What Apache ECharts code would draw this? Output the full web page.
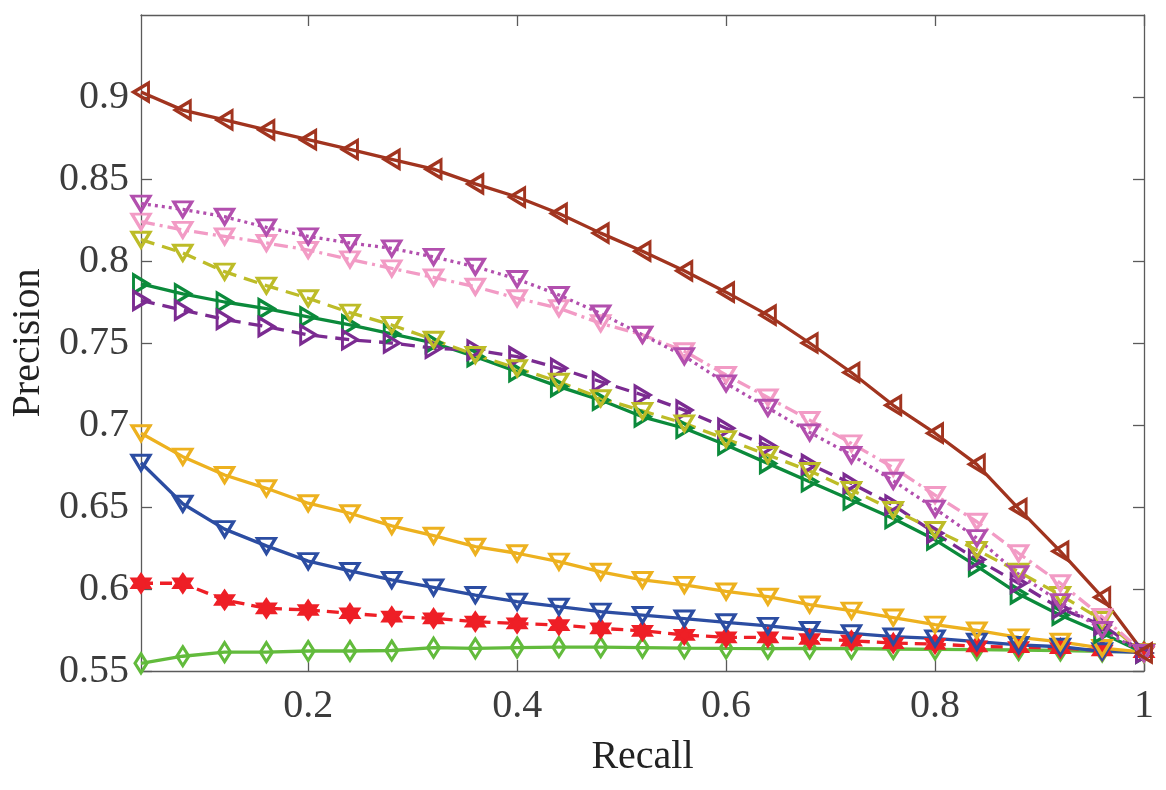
<!DOCTYPE html>
<html>
<head>
<meta charset="utf-8">
<script src="https://cdn.jsdelivr.net/npm/echarts@6/dist/echarts.min.js"></script>
<style>
html,body{margin:0;padding:0;background:#fff;}
#chart{width:1166px;height:790px;}
</style>
</head>
<body>
<div id="chart"></div>
<script>
const recall = [0.04,0.08,0.12,0.16,0.20,0.24,0.28,0.32,0.36,0.40,0.44,0.48,0.52,0.56,0.60,0.64,0.68,0.72,0.76,0.80,0.84,0.88,0.92,0.96,1.00];
const xTickValues = [0.2,0.4,0.6,0.8,1];
const yTickValues = [0.55,0.6,0.65,0.7,0.75,0.8,0.85,0.9];

const brown   = [0.903,0.892,0.886,0.880,0.874,0.868,0.862,0.856,0.847,0.839,0.829,0.817,0.806,0.794,0.781,0.767,0.750,0.732,0.712,0.695,0.676,0.649,0.623,0.595,0.561];
const magenta = [0.835,0.8315,0.827,0.8205,0.815,0.811,0.8077,0.8025,0.7965,0.789,0.7793,0.768,0.755,0.742,0.7254,0.7105,0.6955,0.6817,0.666,0.649,0.631,0.609,0.592,0.575,0.561];
const pink    = [0.824,0.819,0.815,0.811,0.8067,0.801,0.7955,0.790,0.7843,0.7773,0.7712,0.762,0.755,0.745,0.7305,0.7168,0.703,0.6888,0.674,0.6573,0.641,0.6218,0.6035,0.583,0.561];
const olive   = [0.813,0.805,0.7935,0.785,0.7773,0.7685,0.761,0.752,0.7427,0.7346,0.7264,0.7163,0.7086,0.701,0.6914,0.6817,0.672,0.6604,0.6482,0.636,0.6238,0.6105,0.5963,0.5811,0.561];
const green   = [0.786,0.780,0.775,0.771,0.766,0.761,0.7555,0.750,0.7417,0.7325,0.7234,0.7152,0.705,0.698,0.6878,0.6766,0.6654,0.6543,0.643,0.630,0.614,0.597,0.584,0.573,0.561];
const purple  = [0.776,0.770,0.7644,0.760,0.755,0.752,0.750,0.7468,0.7457,0.7417,0.7346,0.7264,0.7183,0.7091,0.698,0.6872,0.676,0.6644,0.6512,0.634,0.618,0.6035,0.588,0.578,0.561];
const orange  = [0.695,0.6807,0.6695,0.6614,0.6523,0.6462,0.6385,0.6325,0.6258,0.6218,0.6167,0.6105,0.6055,0.6025,0.5985,0.5953,0.5905,0.5868,0.5826,0.5783,0.5747,0.5705,0.5678,0.564,0.5615];
const blue    = [0.677,0.652,0.6365,0.6263,0.617,0.611,0.6055,0.601,0.5963,0.5923,0.5892,0.5862,0.5841,0.582,0.5797,0.5775,0.575,0.573,0.571,0.5699,0.5679,0.5659,0.5648,0.562,0.5615];
const red     = [0.6035,0.6035,0.5933,0.5882,0.5872,0.5852,0.5831,0.5821,0.5801,0.579,0.578,0.576,0.5745,0.572,0.5705,0.5705,0.5695,0.5685,0.567,0.5665,0.565,0.5645,0.564,0.5625,0.5615];
const lgreen  = [0.5547,0.559,0.5615,0.5615,0.5622,0.5622,0.5625,0.5642,0.5638,0.5643,0.5645,0.5645,0.5643,0.564,0.5638,0.5637,0.5638,0.5636,0.5634,0.5632,0.563,0.5628,0.5625,0.562,0.5615];

const hexagram = 'path://M0,-10L2.887,-5L8.66,-5L5.774,0L8.66,5L2.887,5L0,10L-2.887,5L-8.66,5L-5.774,0L-8.66,-5L-2.887,-5Z';

function mk(name, data, color, dash, symbol, rotate, size, fill) {
  return {
    name: name,
    type: 'line',
    data: recall.map((r, i) => [r, data[i]]),
    symbol: symbol,
    symbolRotate: rotate,
    symbolSize: size,
    showAllSymbol: true,
    lineStyle: { color: color, width: 3.3, type: dash },
    itemStyle: { color: fill ? color : 'rgba(255,255,255,0)', borderColor: color, borderWidth: 3.2 },
    emphasis: { disabled: true },
    animation: false
  };
}

const chart = echarts.init(document.getElementById('chart'), null, { renderer: 'canvas' });
const serif = '"Liberation Serif", "DejaVu Serif", serif';
const axisCol = '#5a5a5a';
const labelCol = '#3c3c3c';

chart.setOption({
  backgroundColor: '#fff',
  animation: false,
  grid: { left: 141, right: 22, top: 15, bottom: 119, containLabel: false, outerBoundsMode: 'none' },
  xAxis: [{
    type: 'value', min: 0.04, max: 1, position: 'bottom',
    name: 'Recall', nameLocation: 'middle', nameGap: 66,
    nameTextStyle: { fontFamily: serif, fontSize: 40, color: '#222' },
    axisLine: { show: true, lineStyle: { color: axisCol, width: 1.3 } },
    axisTick: { show: true, inside: true, length: 11, lineStyle: { color: axisCol, width: 1.3 }, customValues: xTickValues },
    axisLabel: { fontFamily: serif, fontSize: 40, color: labelCol, margin: 15, customValues: xTickValues,
      formatter: v => String(+(+v).toFixed(2)) },
    splitLine: { show: false }
  }, {
    type: 'value', min: 0.04, max: 1, position: 'top',
    axisLine: { show: true, lineStyle: { color: axisCol, width: 1.3 } },
    axisTick: { show: true, inside: true, length: 11, lineStyle: { color: axisCol, width: 1.3 }, customValues: xTickValues },
    axisLabel: { show: false }, splitLine: { show: false }
  }],
  yAxis: [{
    type: 'value', min: 0.55, max: 0.95, position: 'left',
    name: 'Precision', nameLocation: 'middle', nameGap: 90,
    nameTextStyle: { fontFamily: serif, fontSize: 40, color: '#222' },
    axisLine: { show: true, lineStyle: { color: axisCol, width: 1.3 } },
    axisTick: { show: true, inside: true, length: 11, lineStyle: { color: axisCol, width: 1.3 }, customValues: yTickValues },
    axisLabel: { fontFamily: serif, fontSize: 40, color: labelCol, margin: 12, customValues: yTickValues,
      formatter: v => String(+(+v).toFixed(2)) },
    splitLine: { show: false }
  }, {
    type: 'value', min: 0.55, max: 0.95, position: 'right',
    axisLine: { show: true, lineStyle: { color: axisCol, width: 1.3 } },
    axisTick: { show: true, inside: true, length: 11, lineStyle: { color: axisCol, width: 1.3 }, customValues: yTickValues },
    axisLabel: { show: false }, splitLine: { show: false }
  }],
  series: [
    mk('lgreen', lgreen, '#62BB3C', 'solid', 'diamond', 0, [12, 19], false),
    mk('red', red, '#EE1F26', [12, 7], hexagram, 0, 17, true),
    mk('blue', blue, '#2C4DA2', 'solid', 'triangle', 180, [18, 15], false),
    mk('orange', orange, '#EDB11F', 'solid', 'triangle', 180, [18, 15], false),
    mk('green', green, '#0B8A3B', 'solid', 'triangle', -90, [18, 15], false),
    mk('purple', purple, '#7B2B91', [14, 8], 'triangle', -90, [18, 15], false),
    mk('olive', olive, '#BDBC28', [14, 8], 'triangle', 180, [18, 15], false),
    mk('pink', pink, '#F29BC5', [14, 5, 3, 5], 'triangle', 180, [18, 15], false),
    mk('magenta', magenta, '#B24FAE', [3, 4], 'triangle', 180, [18, 15], false),
    mk('brown', brown, '#A1341F', 'solid', 'triangle', 90, [18, 15], false)
  ]
});
</script>
</body>
</html>
